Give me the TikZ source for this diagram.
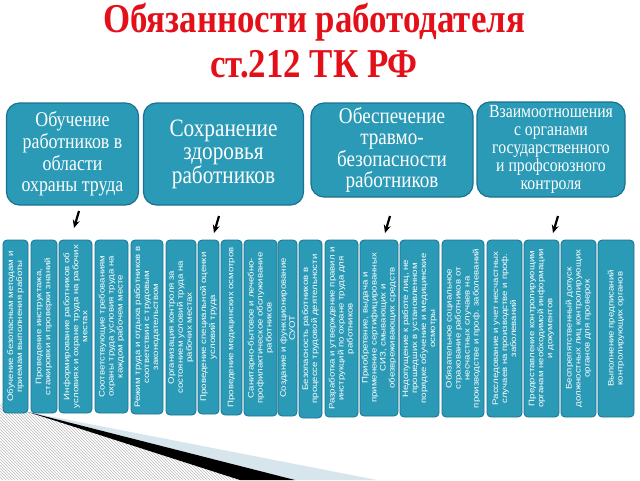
\documentclass[tikz,border=0pt]{standalone}
\usepackage{fontspec}
\setmainfont{Liberation Serif}
\newfontfamily\headfont[FakeStretch=0.85]{Liberation Serif}
\newfontfamily\barfont[FakeStretch=1.2]{Liberation Sans}
\usetikzlibrary{arrows.meta, patterns}
\definecolor{DutyTeal}{HTML}{2A9AB6}
\definecolor{DutyEdge}{HTML}{1B7290}
\definecolor{TitleRed}{HTML}{E3101A}
\definecolor{ShadeBlue}{HTML}{D7E5EC}

\tikzset{
  topbox/.style={rounded corners=13pt, fill=DutyTeal, draw=DutyEdge, line width=1.2pt,
    text=white, align=center, inner sep=1pt},
  dutybar/.style={rounded corners=4pt, fill=DutyTeal, draw=DutyEdge, line width=0.8pt,
    text=white, align=center, inner sep=0pt, font=\barfont\fontsize{8}{9}\selectfont},
  downarrow/.style={-{Stealth[length=8pt,width=7pt]}, line width=2.2pt, black}
}

\begin{document}
\begin{tikzpicture}[x=1pt, y=-1pt]
  \useasboundingbox (0,0) rectangle (640,480);

  % Slide decoration, bottom left
  \fill[pattern=north west lines, pattern color=gray!55] (0,403) -- (28,412) -- (240,480) -- (0,480) -- cycle;
  \fill[ShadeBlue] (28,412) -- (377,480) -- (295,480) -- cycle;
  \fill[black] (28,412) -- (295,480) -- (240,480) -- cycle;

  % Title
  \node[font=\headfont\bfseries\fontsize{41}{41}\selectfont, text=TitleRed, anchor=base] (title1) at (314,32) {Обязанности работодателя};
  \node[font=\headfont\bfseries\fontsize{41}{41}\selectfont, text=TitleRed, anchor=base] (title2) at (314,77) {ст.212 ТК РФ};

  % Main groups of duties
  \node[topbox, minimum width=132pt, minimum height=102pt, font=\headfont\fontsize{21}{21.7}\selectfont] (ob) at (72.5,154)
    {Обучение\\работников в\\области\\охраны труда};
  \node[topbox, minimum width=160pt, minimum height=102pt, font=\headfont\fontsize{25}{23}\selectfont] (zd) at (223.5,154)
    {Сохранение\\здоровья\\работников};
  \node[topbox, minimum width=162pt, minimum height=94pt, font=\headfont\fontsize{22.5}{21.5}\selectfont] (tb) at (392,150)
    {Обеспечение\\травмо-\\безопасности\\работников};
  \node[topbox, minimum width=148pt, minimum height=95pt, font=\headfont\fontsize{18.5}{18}\selectfont] (vz) at (551,149.5)
    {Взаимоотношения\\с органами\\государственного\\и профсоюзного\\контроля};

  % Small arrows under the groups
  \foreach \i/\xs/\ys in {1/79/211, 2/219/216, 3/390/216, 4/558/216} {
    \coordinate (a\i s) at (\xs,\ys);
    \coordinate (a\i e) at (\xs-5,\ys+17);
    \draw[downarrow] (a\i s) -- (a\i e);
  }

  % Individual duties (vertical bars)
  \foreach \xa/\xb/\yb/\txt [count=\i] in {
      3/28/413/{Обучение безопасным методам и\\приемам выполнения работы},
      31/57/413/{Проведение инструктажа,\\стажировки и проверки знаний},
      59/92/413/{Информирование работников об\\условиях и охране труда на рабочих\\местах},
      95/128/413/{Соответствующие требованиям\\охраны труда условия труда на\\каждом рабочем месте},
      131/163/414/{Режим труда и отдыха работников в\\соответствии с трудовым\\законодательством},
      166/196/415/{Организация контроля за\\состоянием условий труда на\\рабочих местах},
      198/219/414/{Проведение специальной оценки\\условий труда},
      221/242/415/{Проведение медицинских осмотров},
      244/277/416/{Санитарно-бытовое и лечебно-\\профилактическое обслуживание\\работников},
      278/297/416/{Создание и функционирование\\СУОТ},
      299/322/418/{Безопасность работников в\\процессе трудовой деятельности},
      325/358/417/{Разработка и утверждение правил и\\инструкций по охране труда для\\работников},
      360/398/416/{Приобретение, выдача и\\применение сертифицированных\\СИЗ, смывающих и\\обезвреживающих средств},
      400/439/417/{Недопущение к работе лиц, не\\прошедших в установленном\\порядке обучение и медицинские\\осмотры},
      442/484/417/{Обязательное социальное\\страхование работников от\\несчастных случаев на\\производстве и проф. заболеваний},
      487/522/417/{Расследование и учет несчастных\\случаев на производстве и проф.\\заболеваний},
      524/559/417/{Предоставление контролирующим\\органам необходимой информации\\и документов},
      561/596/417/{Беспрепятственный допуск\\должностных лиц контролирующих\\органов для проверок},
      598/634/417/{Выполнение предписаний\\контролирующих органов}} {
    \pgfmathsetmacro{\cx}{(\xa+\xb)/2}
    \pgfmathsetmacro{\cy}{(240+\yb)/2}
    \pgfmathsetmacro{\bw}{\xb-\xa}
    \pgfmathsetmacro{\bh}{\yb-240}
    \node[dutybar, rotate=90, minimum width=\bh pt, minimum height=\bw pt] (d\i) at (\cx,\cy) {\txt};
  }
\end{tikzpicture}
\end{document}
